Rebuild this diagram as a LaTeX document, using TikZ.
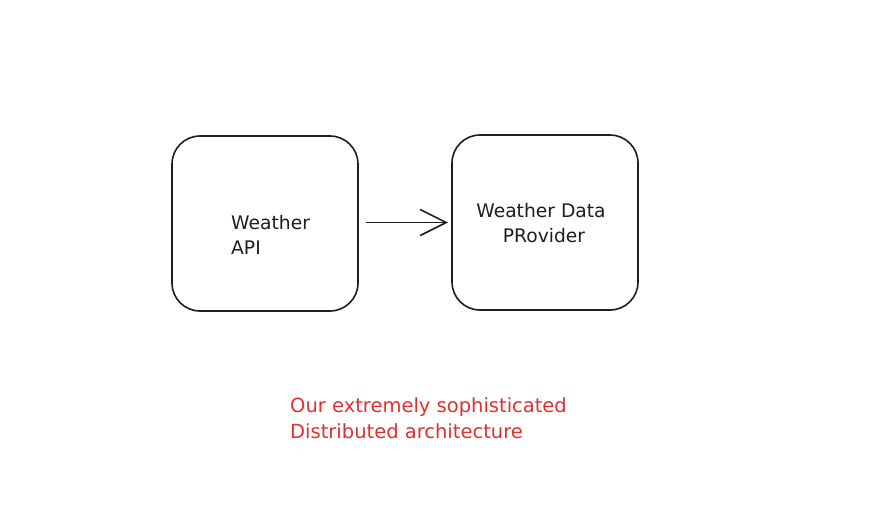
\documentclass[tikz,border=0pt]{standalone}
\usepackage{fontspec}
\setmainfont{DejaVu Sans}
\usetikzlibrary{arrows.meta}
\definecolor{ink}{HTML}{1E1E1E}
\definecolor{redink}{HTML}{E03131}
\begin{document}
\begin{tikzpicture}[x=1pt,y=-1pt,
  box/.style={draw=ink,line width=1.6pt,rounded corners=28pt,minimum width=186pt,minimum height=175pt,inner sep=0pt},
  lbl/.style={font=\fontsize{18.7}{25}\selectfont,text=ink,inner sep=0pt},
  note/.style={font=\fontsize{19.5}{26}\selectfont,text=redink,inner sep=0pt,align=left,anchor=north west}]
\useasboundingbox[fill=white] (0,0) rectangle (870,523);
\node[box] (api) at (265,223.5) {};
\node[box] (prov) at (545,222.5) {};
\node[lbl,align=left,anchor=west] (apit) at (231,235) {Weather\\API};
\node[lbl,align=center] (provt) at (541,223) {Weather Data\\\hspace{6pt}PRovider};
\draw[ink,line width=1.6pt,-{Straight Barb[length=26pt,width=26pt]}] (api.east)++(7,-1) coordinate (s) (s) -- (prov.west -| 448,222);
\node[note] (cap) at (290,397) {Our extremely sophisticated\\Distributed architecture};
\end{tikzpicture}
\end{document}
